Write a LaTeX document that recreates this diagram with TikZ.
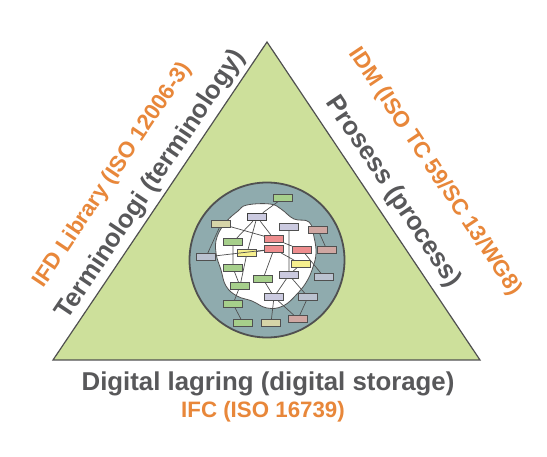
\documentclass[tikz,border=0pt]{standalone}
\usepackage{fontspec}
\setmainfont{Liberation Sans}
\definecolor{edgegray}{HTML}{505050}
\definecolor{textgray}{HTML}{58585A}
\definecolor{isoorange}{HTML}{E8873A}
\definecolor{leafgreen}{HTML}{CDE09B}
\definecolor{poolblue}{HTML}{8FABAE}
\definecolor{bgreen}{HTML}{A6CF8B}
\definecolor{bbeige}{HTML}{D6D4A8}
\definecolor{blilac}{HTML}{CBCAE0}
\definecolor{bred}{HTML}{EE8D8E}
\definecolor{byellow}{HTML}{F6EF8E}
\definecolor{bmauve}{HTML}{CFA7A2}
\definecolor{bsteel}{HTML}{BAC2D0}

\begin{document}
\begin{tikzpicture}[x=1pt, y=-1pt,
  box/.style={draw=edgegray, line width=0.9pt, minimum width=19pt, minimum height=7pt, inner sep=0pt},
  side/.style={font=\fontsize{25.8}{30}\selectfont\bfseries, text=textgray, inner sep=0pt},
  iso/.style={font=\fontsize{22.3}{26}\selectfont\bfseries, text=isoorange, inner sep=0pt}]
          \useasboundingbox (0,0) rectangle (547,457);
          \fill[white] (0,0) rectangle (547,457);

          % triangle
          \coordinate (L) at (53,360);
          \coordinate (T) at (267,42);
          \coordinate (R) at (480,360);
          \draw[edgegray, line width=1.2pt, fill=leafgreen] (L) -- (T) -- (R) -- cycle;

          % circle with the white cloud
          \node[circle, draw=edgegray, line width=1.8pt, fill=poolblue, minimum size=155pt, inner sep=0pt] (pool) at (267,260) {};
          \draw[edgegray, line width=0.8pt, fill=white] plot[smooth cycle, tension=0.7] coordinates {
            (238,211) (247,205) (270,204) (281,209) (294,219) (309,222) (314,237) (316,253)
            (313,267) (307,281) (297,294) (283,306) (267,308) (252,301) (237,296) (226,286)
            (221,270) (216,253) (217,237) (226,222)};

          % boxes
          \node[box, fill=bgreen] (b1) at (283,198) {};
          \node[box, fill=blilac, draw=black!75, line width=1.6pt] (b2) at (257,217) {};
          \node[box, fill=bbeige] (b3) at (221,224) {};
          \node[box, fill=blilac] (b4) at (289,227) {};
          \node[box, fill=bmauve] (b5) at (318,230) {};
          \node[box, fill=bgreen] (b6) at (233,242) {};
          \node[box, fill=bred] (b7) at (274,239) {};
          \node[box, fill=bred] (b8) at (274,249) {};
          \node[box, fill=bred] (b9) at (302,250) {};
          \node[box, fill=bmauve] (b10) at (327,250) {};
          \node[box, fill=byellow] (b11) at (247,253) {};
          \node[box, fill=bsteel] (b12) at (206,257) {};
          \node[box, fill=byellow] (b13) at (301,264) {};
          \node[box, fill=bgreen] (b14) at (233,268) {};
          \node[box, fill=bgreen] (b15) at (263,279) {};
          \node[box, fill=blilac] (b16) at (289,275) {};
          \node[box, fill=bsteel] (b17) at (324,277) {};
          \node[box, fill=bgreen] (b18) at (240,286) {};
          \node[box, fill=blilac] (b19) at (274,297) {};
          \node[box, fill=bsteel] (b20) at (308,297) {};
          \node[box, fill=bgreen] (b21) at (233,304) {};
          \node[box, fill=bmauve] (b22) at (298,319) {};
          \node[box, fill=bgreen] (b23) at (243,323) {};
          \node[box, fill=bbeige] (b24) at (271,323) {};

          % links
          \draw[edgegray, line width=0.7pt]
            (b1) -- (b2) (b2) -- (b6) (b2) -- (b11) (b2) -- (b7)
            (b3) -- (b12) (b3) -- (b7) (b4) -- (b16) (b5) -- (b10)
            (b7) -- (b9) (b12) -- (b8) (b11) -- (b8) (b6) -- (b14)
            (b8) -- (b15) (b8) -- (b13) (b9) -- (b17) (b13) -- (b16)
            (b14) -- (b18) (b11) -- (b18) (b15) -- (b19) (b16) -- (b19)
            (b16) -- (b20) (b18) -- (b21) (b21) -- (b23) (b19) -- (b24)
            (b19) -- (b22) (b20) -- (b22);

          % labels
          \node[side, rotate=56.1] (term) at (151,185) {Terminologi (terminology)};
          \node[iso, rotate=56.1] (ifd) at (113,175) {IFD Library (ISO 12006-3)};
          \node[side, rotate=-56.2] (proc) at (393,192) {Prosess (process)};
          \node[iso, rotate=-56.2] (idm) at (435,172) {IDM (ISO TC 59/SC 13/WG8)};
          \node[side] (store) at (268,384) {Digital lagring (digital storage)};
          \node[iso] (ifc) at (263,412) {IFC (ISO 16739)};
        \end{tikzpicture}
\end{document}
